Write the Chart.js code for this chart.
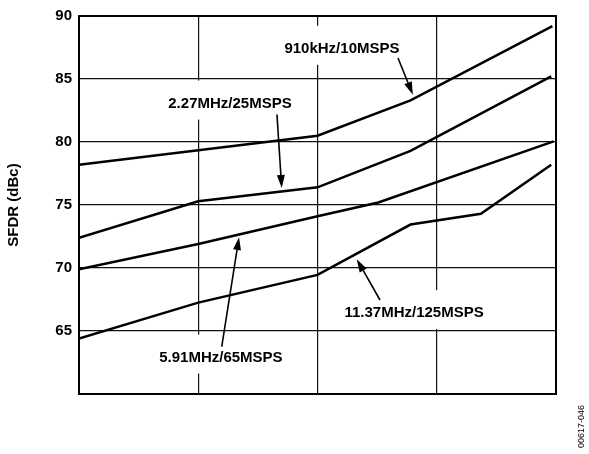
<!DOCTYPE html>
<html>
<head>
<meta charset="utf-8">
<script src="https://cdn.jsdelivr.net/npm/chart.js@4/dist/chart.umd.min.js"></script>
<style>
  body { margin: 0; background: #fff; }
</style>
</head>
<body>
<canvas id="chart" width="589" height="454"></canvas>
<script>
// x runs over 4 equal divisions (no labels on the original), y is SFDR in dBc
const yTicks = [60, 65, 70, 75, 80, 85, 90];

const x910k = [0, 1, 2, 2.78, 3.97];
const y910k = [78.2, 79.35, 80.5, 83.3, 89.2];

const x227 = [0, 1, 2, 2.78, 3.96];
const y227 = [72.4, 75.3, 76.4, 79.3, 85.2];

const x591 = [0, 1, 2, 2.51, 3.98];
const y591 = [69.9, 71.9, 74.1, 75.2, 80.05];

const x1137 = [0, 1, 2, 2.78, 3.37, 3.96];
const y1137 = [64.4, 67.25, 69.45, 73.45, 74.3, 78.2];

const seriesNames = ['910kHz/10MSPS', '2.27MHz/25MSPS', '5.91MHz/65MSPS', '11.37MHz/125MSPS'];

// label callouts, in data units: [labelX, labelY, arrowFromX, arrowFromY, arrowToX, arrowToY]
const callouts = [
  [2.205, 87.48, 2.675, 86.67, 2.80, 83.75],
  [1.266, 83.13, 1.66, 82.18, 1.70, 76.35],
  [1.19, 62.97, 1.197, 63.76, 1.342, 72.45],
  [2.81, 66.5, 2.524, 67.46, 2.329, 70.7]
];

function pts(xs, ys) {
  return xs.map((x, i) => ({ x: x, y: ys[i] }));
}

const FONT = '"Liberation Sans", Arial, sans-serif';

const calloutPlugin = {
  id: 'callouts',
  afterDatasetsDraw(chart) {
    const ctx = chart.ctx;
    const xs = chart.scales.x, ys = chart.scales.y;
    ctx.save();
    ctx.font = 'bold 15px ' + FONT;
    ctx.textAlign = 'center';
    ctx.textBaseline = 'middle';
    callouts.forEach((c, i) => {
      const lx = xs.getPixelForValue(c[0]);
      const ly = ys.getPixelForValue(c[1]);
      const w = ctx.measureText(seriesNames[i]).width;
      ctx.fillStyle = '#fff';
      ctx.fillRect(lx - w / 2 - 3, ly - 22, w + 6, 39);
      ctx.fillStyle = '#000';
      ctx.fillText(seriesNames[i], lx, ly + 1);

      const x1 = xs.getPixelForValue(c[2]), y1 = ys.getPixelForValue(c[3]);
      const x2 = xs.getPixelForValue(c[4]), y2 = ys.getPixelForValue(c[5]);
      const a = Math.atan2(y2 - y1, x2 - x1);
      const hl = 13, hw = 4;
      ctx.strokeStyle = '#000';
      ctx.lineWidth = 1.6;
      ctx.beginPath();
      ctx.moveTo(x1, y1);
      ctx.lineTo(x2 - hl * Math.cos(a), y2 - hl * Math.sin(a));
      ctx.stroke();
      ctx.beginPath();
      ctx.moveTo(x2, y2);
      ctx.lineTo(x2 - hl * Math.cos(a) + hw * Math.sin(a), y2 - hl * Math.sin(a) - hw * Math.cos(a));
      ctx.lineTo(x2 - hl * Math.cos(a) - hw * Math.sin(a), y2 - hl * Math.sin(a) + hw * Math.cos(a));
      ctx.closePath();
      ctx.fill();
    });
    ctx.restore();
  },
  afterDraw(chart) {
    const ctx = chart.ctx;
    const a = chart.chartArea;
    ctx.save();
    ctx.strokeStyle = '#000';
    ctx.lineWidth = 2;
    ctx.strokeRect(a.left, a.top, a.right - a.left, a.bottom - a.top);
    // figure number at right edge
    ctx.translate(582, 448);
    ctx.rotate(-Math.PI / 2);
    ctx.font = '9px ' + FONT;
    ctx.fillStyle = '#000';
    ctx.textAlign = 'left';
    ctx.textBaseline = 'middle';
    ctx.fillText('00617-046', 0, 0);
    ctx.restore();
  }
};

function lineSet(label, xs, ys) {
  return {
    label: label,
    data: pts(xs, ys),
    borderColor: '#000',
    borderWidth: 2.5,
    pointRadius: 0,
    tension: 0,
    fill: false
  };
}

const ctx = document.getElementById('chart').getContext('2d');
const chart = new Chart(ctx, {
  type: 'line',
  data: {
    datasets: [
      lineSet(seriesNames[0], x910k, y910k),
      lineSet(seriesNames[1], x227, y227),
      lineSet(seriesNames[2], x591, y591),
      lineSet(seriesNames[3], x1137, y1137)
    ]
  },
  options: {
    responsive: false,
    animation: false,
    devicePixelRatio: 1,
    layout: { padding: { left: 0, right: 33, top: 13, bottom: 60 } },
    plugins: { legend: { display: false }, tooltip: { enabled: false } },
    scales: {
      x: {
        type: 'linear',
        min: 0,
        max: 4,
        ticks: { display: false, stepSize: 1 },
        grid: { color: '#111', lineWidth: 1.2, drawTicks: false },
        border: { color: '#000', width: 2 }
      },
      y: {
        min: 60,
        max: 90,
        afterBuildTicks: s => { s.ticks = yTicks.map(v => ({ value: v })); },
        afterFit: s => { s.width = 79; },
        ticks: {
          padding: 7,
          color: '#000',
          font: { family: FONT, size: 15, weight: 'bold' },
          callback: v => (v === 60 ? '' : v)
        },
        grid: { color: '#111', lineWidth: 1.2, drawTicks: false },
        border: { color: '#000', width: 2 },
        title: {
          display: true,
          text: 'SFDR (dBc)',
          color: '#000',
          font: { family: FONT, size: 15, weight: 'bold' },
          padding: { top: 5, bottom: 0 }
        }
      }
    }
  },
  plugins: [calloutPlugin]
});
</script>
</body>
</html>
